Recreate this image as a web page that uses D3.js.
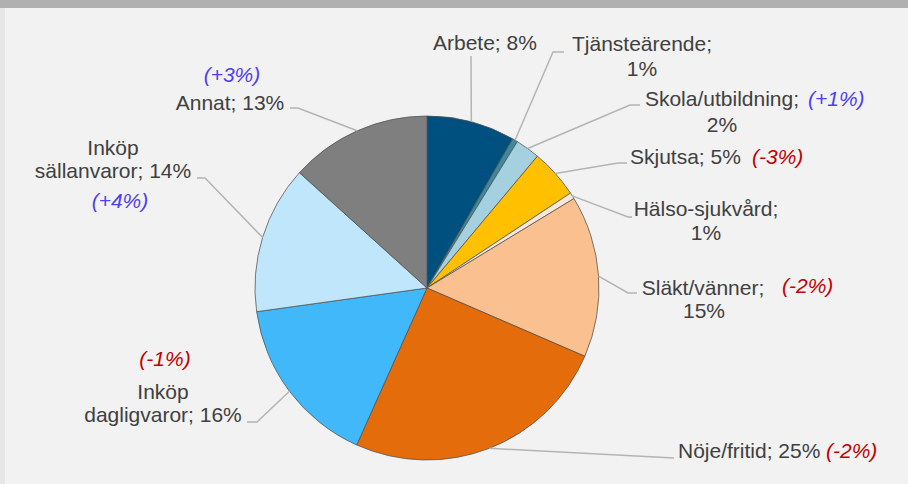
<!DOCTYPE html>
<html>
<head>
<meta charset="utf-8">
<script src="https://cdn.jsdelivr.net/npm/d3@7"></script>
<style>
  html, body { margin: 0; padding: 0; background: #f2f2f2; }
  svg { display: block; font-family: "Liberation Sans", Arial, sans-serif; }
</style>
</head>
<body>
<div id="chart"></div>
<script>
// Share of trips per purpose (slice sizes)
const categories = ['Arbete', 'Tjänsteärende', 'Skola/utbildning', 'Skjutsa', 'Hälso-sjukvård',
  'Släkt/vänner', 'Nöje/fritid', 'Inköp dagligvaror', 'Inköp sällanvaror', 'Annat'];
const shares = [8.3, 0.5, 2.3, 4.6, 0.6, 15.2, 25.2, 16.1, 13.9, 13.3];
// rounded labels as printed
const pctLabels = ['8%', '1%', '2%', '5%', '1%', '15%', '25%', '16%', '14%', '13%'];
// change since previous survey
const changes = ['', '', '+1%', '-3%', '', '-2%', '-2%', '-1%', '+4%', '+3%'];
const colors = ['#00507f', '#3b8aa0', '#a5d0df', '#ffc000', '#fde7d6',
  '#fac08f', '#e46c0a', '#40b8f9', '#bfe6fb', '#7f7f7f'];

const width = 908, height = 484;
const cx = 427, cy = 288, radius = 172;

// label layout: text lines [text, x, baseline], anchor, change pos, leader bends
const layout = [
  { anchor: 'start',  lines: d => [[`${d.cat}; ${d.pct}`, 433, 50]], leader: [[471, 56]] },
  { anchor: 'middle', lines: d => [[`${d.cat};`, 642, 51], [d.pct, 642, 76]], leader: [[553, 52], [564, 52]] },
  { anchor: 'middle', lines: d => [[`${d.cat};`, 722, 106], [d.pct, 722, 132]], chg: [808, 106, 'start'], leader: [[630, 105], [640, 105]] },
  { anchor: 'start',  lines: d => [[`${d.cat}; ${d.pct}`, 630, 164]], chg: [752, 164, 'start'], leader: [[618, 163], [627, 163]] },
  { anchor: 'middle', lines: d => [[`${d.cat};`, 706, 216], [d.pct, 706, 240]], leader: [[628, 217], [632, 217]] },
  { anchor: 'middle', lines: d => [[`${d.cat};`, 703, 295], [d.pct, 704, 318]], chg: [782, 293, 'start'], leader: [[628, 293], [637, 293]] },
  { anchor: 'start',  lines: d => [[`${d.cat}; ${d.pct}`, 678, 458]], chg: [826, 458, 'start'], leader: [[674, 458]] },
  { anchor: 'middle', lines: d => [['Inköp', 163, 399], [`dagligvaror; ${d.pct}`, 163, 422]], chg: [165, 366, 'middle'], leader: [[257, 422], [247, 422]] },
  { anchor: 'middle', lines: d => [['Inköp', 113, 155], [`sällanvaror; ${d.pct}`, 113, 178]], chg: [120, 208, 'middle'], leader: [[205, 178], [197, 178]] },
  { anchor: 'middle', lines: d => [[`${d.cat}; ${d.pct}`, 230, 110]], chg: [232, 82, 'middle'], leader: [[298, 108], [290, 108]] }
];

const svg = d3.select('#chart').append('svg')
  .attr('width', width)
  .attr('height', height);

svg.append('rect').attr('width', width).attr('height', height).attr('fill', '#f2f2f2');
svg.append('rect').attr('width', 5).attr('height', height).attr('fill', '#e6e6e6');
svg.append('rect').attr('width', width).attr('height', 8).attr('fill', '#b0b0b0');

const pie = d3.pie().sort(null).value(d => d);
const arcs = pie(shares);
const arc = d3.arc().innerRadius(0).outerRadius(radius);

const g = svg.append('g').attr('transform', `translate(${cx},${cy})`);

g.selectAll('path.slice')
  .data(arcs)
  .enter()
  .append('path')
  .attr('class', 'slice')
  .attr('d', arc)
  .attr('fill', (d, i) => colors[i])
  .attr('stroke', '#505050')
  .attr('stroke-width', 0.75);

// leader lines from the middle of each slice's edge
const line = d3.line();
arcs.forEach((a, i) => {
  const mid = (a.startAngle + a.endAngle) / 2;
  const p0 = [cx + radius * Math.sin(mid), cy - radius * Math.cos(mid)];
  svg.append('path')
    .attr('d', line([p0, ...layout[i].leader]))
    .attr('fill', 'none')
    .attr('stroke', '#b4b4b4')
    .attr('stroke-width', 1.5);
});

// labels
categories.forEach((cat, i) => {
  const L = layout[i];
  L.lines({ cat, pct: pctLabels[i] }).forEach(([t, x, y]) => {
    svg.append('text')
      .attr('x', x).attr('y', y)
      .attr('text-anchor', L.anchor)
      .attr('font-size', 21)
      .attr('fill', '#404040')
      .text(t);
  });
  if (changes[i] && L.chg) {
    const up = changes[i].startsWith('+');
    svg.append('text')
      .attr('x', L.chg[0]).attr('y', L.chg[1])
      .attr('text-anchor', L.chg[2])
      .attr('font-size', 21)
      .attr('font-style', 'italic')
      .attr('fill', up ? '#4f3ff0' : '#c00000')
      .text(`(${changes[i]})`);
  }
});
</script>
</body>
</html>
